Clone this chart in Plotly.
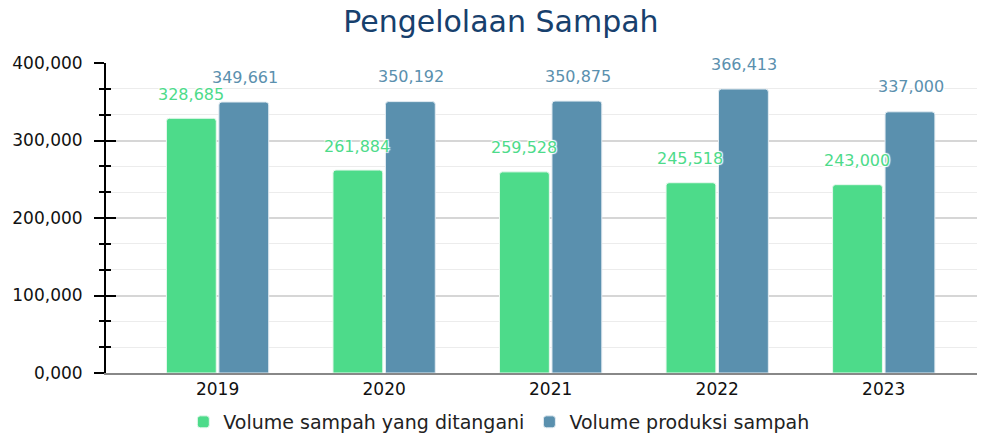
import plotly.graph_objects as go

years = ["2019", "2020", "2021", "2022", "2023"]
handled = [328685, 261884, 259528, 245518, 243000]
produced = [349661, 350192, 350875, 366413, 337000]
series_names = ["Volume sampah yang ditangani", "Volume produksi sampah"]
y_tickvals = [0, 100000, 200000, 300000, 400000]
y_ticktext = ["0,000", "100,000", "200,000", "300,000", "400,000"]

GREEN = "#4ddb8a"
BLUE = "#5a90ae"
FONT = "DejaVu Sans"

fig = go.Figure()
fig.add_trace(go.Bar(x=years, y=handled, name=series_names[0],
                     marker=dict(color=GREEN, cornerradius=3, line=dict(color="#e8f8ee", width=1))))
fig.add_trace(go.Bar(x=years, y=produced, name=series_names[1],
                     marker=dict(color=BLUE, cornerradius=3, line=dict(color="#e3ecf2", width=1))))
fig.add_trace(go.Scatter(x=[years[0]], y=[None], yaxis="y2", showlegend=False,
                         hoverinfo="skip", mode="markers"))

HALO = "1px 1px 1px white, -1px -1px 1px white, 1px -1px 1px white, -1px 1px 1px white"
annotations = []
for i, v in enumerate(produced):
    annotations.append(dict(x=i, y=v, xref="x", yref="y", text=f"{v:,}", showarrow=False,
                            xshift=27, yshift=25,
                            font=dict(family=FONT, size=16, color=BLUE, shadow=HALO)))
for i, v in enumerate(handled):
    annotations.append(dict(x=i, y=v, xref="x", yref="y", text=f"{v:,}", showarrow=False,
                            xshift=-27, yshift=24,
                            font=dict(family=FONT, size=16, color=GREEN, shadow=HALO)))

fig.update_layout(
    width=988, height=433,
    margin=dict(l=106, r=11, t=63, b=60, autoexpand=False),
    paper_bgcolor="white", plot_bgcolor="white",
    font=dict(family=FONT, size=15, color="#222222"),
    title=dict(text="Pengelolaan Sampah", x=0.507, xanchor="center", y=0.95, yanchor="middle",
               xref="container", yref="container",
               font=dict(family=FONT, size=30, color="#17406d")),
    barmode="group", bargap=0.37, bargroupgap=0.05,
    xaxis=dict(type="category", range=[-0.67, 4.56], showgrid=False,
               showline=True, linecolor="#888888", linewidth=2, ticks="",
               tickfont=dict(size=17, color="#111111"), fixedrange=True),
    yaxis=dict(range=[0, 400000], tickvals=y_tickvals, ticktext=y_ticktext,
               showline=True, linecolor="black", linewidth=2,
               ticks="outside", ticklen=10, tickwidth=2, tickcolor="black",
               ticklabelstandoff=8,
               showgrid=True, gridcolor="#d6d6d6", gridwidth=1.5,
               zeroline=False,
               minor=dict(dtick=100000/3, tick0=0, ticks="outside", ticklen=5, tickwidth=2,
                          tickcolor="black", showgrid=True, gridcolor="#ececec", gridwidth=1),
               tickfont=dict(size=17, color="#111111")),
    yaxis2=dict(range=[0, 400000], overlaying="y", side="left", anchor="x",
                tickvals=y_tickvals, showticklabels=False, showgrid=False, showline=False,
                zeroline=False, ticks="inside", ticklen=10, tickwidth=2, tickcolor="black",
                minor=dict(dtick=100000/3, tick0=0, ticks="inside", ticklen=5, tickwidth=2,
                           tickcolor="black", showgrid=False)),
    legend=dict(orientation="h", x=0.451, xanchor="center", y=-0.158, yanchor="middle",
                font=dict(family=FONT, size=19, color="#222222"), itemwidth=30,
                traceorder="normal"),
    annotations=annotations,
)

fig.write_html("out.html", config={"displayModeBar": False},
               post_script="document.body.style.margin='0';document.body.style.padding='0';")
